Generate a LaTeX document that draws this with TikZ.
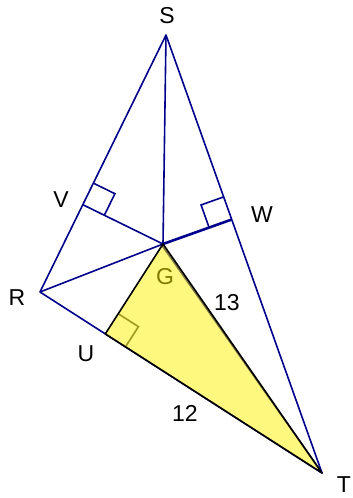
\documentclass[tikz,border=0pt]{standalone}
\usepackage{fontspec}
\setmainfont{Liberation Sans}
\usetikzlibrary{calc}
\definecolor{edgeblue}{RGB}{0,0,140}

\begin{document}
\begin{tikzpicture}[x=1pt,y=-1pt,
		edge/.style={draw=edgeblue, line width=1.6pt, line join=round},
		rmark/.style={line width=1.6pt},
		lbl/.style={inner sep=0pt, font=\fontsize{23}{25}\selectfont}]
			\useasboundingbox (0,0) rectangle (353,498);
			\coordinate (S) at (166,35);
			\coordinate (R) at (40,292);
			\coordinate (T) at (322,473);
			\coordinate (G) at (163,244);
			\coordinate (V) at ($(R)!(G)!(S)$);
			\coordinate (W) at ($(S)!(G)!(T)$);
			\coordinate (U) at ($(R)!(G)!(T)$);
			\coordinate (v1) at ($(V)!24pt!(S)$);
			\coordinate (v2) at ($(V)!24pt!(G)$);
			\coordinate (w1) at ($(W)!24pt!(S)$);
			\coordinate (w2) at ($(W)!24pt!(G)$);
			\coordinate (u1) at ($(U)!24pt!(G)$);
			\coordinate (u2) at ($(U)!24pt!(T)$);

			\node[lbl] (labG) at (165,277) {G};
			\draw[rmark, black!75] (u1) -- ($(u1)+(u2)-(U)$) -- (u2);

			\draw[edge] (S) -- (R) -- (T) -- cycle;
			\draw[edge] (G) -- (S);
			\draw[edge] (G) -- (R);
			\draw[edge] ([xshift=-2pt]G) -- (T);
			\draw[edge] (G) -- (V);
			\draw[edge, line width=2.6pt] (G) -- (W);
			\draw[rmark, edgeblue] (v1) -- ($(v1)+(v2)-(V)$) -- (v2);
			\draw[rmark, edgeblue] (w1) -- ($(w1)+(w2)-(W)$) -- (w2);

			\fill[yellow, opacity=0.5] (G) -- (U) -- (T) -- cycle;
			\draw[black, line width=1.6pt, line join=round] (G) -- (U) -- (T) -- cycle;

			\node[lbl] (labS) at (167,16) {S};
			\node[lbl] (labR) at (17,298) {R};
			\node[lbl] (labT) at (344,485) {T};
			\node[lbl] (labV) at (61,200) {V};
			\node[lbl] (labW) at (262,215) {W};
			\node[lbl] (labU) at (86,354) {U};
			\node[lbl] (lab13) at (227,303) {13};
			\node[lbl] (lab12) at (185,413) {12};
\end{tikzpicture}
\end{document}
